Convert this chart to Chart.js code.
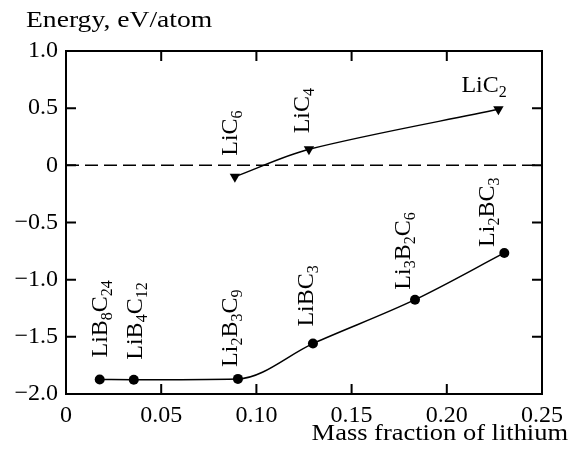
<!DOCTYPE html>
<html lang="en">
<head>
  <meta charset="UTF-8" />
  <title>Energy vs mass fraction of lithium</title>
  <script src="https://cdn.jsdelivr.net/npm/chart.js"></script>
  <style>
    body { margin: 0; background: #fff; }
    #grafico { display: block; }
  </style>
</head>
<body>

<canvas id="grafico" width="570" height="455"></canvas>

<script>
  // Li-B-C compounds (circles)
  const boroNomes = ['LiB8C24', 'LiB4C12', 'Li2B3C9', 'LiBC3', 'Li3B2C6', 'Li2BC3'];
  const boroX = [0.0177, 0.0356, 0.0903, 0.1297, 0.1833, 0.2302];
  const boroY = [-1.873, -1.875, -1.868, -1.559, -1.175, -0.766];

  // Li-C compounds (triangles)
  const carbNomes = ['LiC6', 'LiC4', 'LiC2'];
  const carbX = [0.0887, 0.1276, 0.2271];
  const carbY = [-0.10, 0.14, 0.49];

  // dashed zero line
  const zeroX = [0, 0.25];
  const zeroY = [0, 0];

  const xTicks = [0, 0.05, 0.10, 0.15, 0.20, 0.25];
  const xTickLabels = ['0', '0.05', '0.10', '0.15', '0.20', '0.25'];
  const yTicks = [-2.0, -1.5, -1.0, -0.5, 0, 0.5, 1.0];
  const yTickLabels = ['\u22122.0', '\u22121.5', '\u22121.0', '\u22120.5', '0', '0.5', '1.0'];

  const tituloY = 'Energy, eV/atom';
  const tituloX = 'Mass fraction of lithium';

  const FONTE = 'Liberation Serif';

  function pontos(xs, ys) {
    return xs.map((x, i) => ({ x: x, y: ys[i] }));
  }

  // label placement relative to the point: [dx, dy, rotated]
  const posBoro = [[-1, -22, true], [0, -20, true], [-9, -12, true], [-8, -17, true], [-13, -10, true], [-18, -6, true]];
  const posCarb = [[-6, -21, true], [-8, -16, true], [-37, -17, false]];

  // draws e.g. LiB8C24 with digits as subscripts
  function desenhaFormula(ctx, texto, x0) {
    const partes = texto.match(/[A-Za-z]+|\d+/g);
    let x = x0;
    partes.forEach(p => {
      const sub = /^\d+$/.test(p);
      ctx.font = (sub ? '16px ' : '24px ') + FONTE;
      ctx.fillText(p, x, sub ? 5 : 0);
      x += ctx.measureText(p).width;
    });
  }

  // stretched text for the axis titles
  function textoLargo(ctx, texto, x, y, esc, alinhar) {
    ctx.save();
    ctx.font = '23px ' + FONTE;
    const w = ctx.measureText(texto).width * esc;
    const x0 = alinhar === 'right' ? x - w : x;
    ctx.translate(x0, y);
    ctx.scale(esc, 1);
    ctx.textAlign = 'left';
    ctx.fillText(texto, 0, 0);
    ctx.restore();
  }

  const pluginMoldura = {
    id: 'moldura',
    afterDatasetsDraw(chart) {
      const ctx = chart.ctx;
      const a = chart.chartArea;
      const sx = chart.scales.x, sy = chart.scales.y;
      ctx.save();
      ctx.strokeStyle = '#000';
      ctx.lineWidth = 2;
      ctx.strokeRect(a.left, a.top, a.right - a.left, a.bottom - a.top);
      ctx.beginPath();
      xTicks.slice(1, -1).forEach(v => {
        const px = sx.getPixelForValue(v);
        ctx.moveTo(px, a.bottom); ctx.lineTo(px, a.bottom - 10);
        ctx.moveTo(px, a.top); ctx.lineTo(px, a.top + 10);
      });
      yTicks.slice(1, -1).forEach(v => {
        const py = sy.getPixelForValue(v);
        ctx.moveTo(a.left, py); ctx.lineTo(a.left + 10, py);
        ctx.moveTo(a.right, py); ctx.lineTo(a.right - 10, py);
      });
      ctx.stroke();

      // axis titles
      ctx.fillStyle = '#000';
      ctx.textBaseline = 'alphabetic';
      textoLargo(ctx, tituloY, 26, 27, 1.2, 'left');
      textoLargo(ctx, tituloX, 568, 440, 1.15, 'right');
      ctx.textAlign = 'left';

      // compound labels
      const rotulos = (nomes, xs, ys, pos) => {
        nomes.forEach((n, i) => {
          const px = sx.getPixelForValue(xs[i]);
          const py = sy.getPixelForValue(ys[i]);
          const [dx, dy, rot] = pos[i];
          ctx.save();
          if (rot) {
            ctx.translate(px + dx + 8, py + dy);
            ctx.rotate(-Math.PI / 2);
          } else {
            ctx.translate(px + dx, py + dy);
          }
          desenhaFormula(ctx, n, 0);
          ctx.restore();
        });
      };
      rotulos(boroNomes, boroX, boroY, posBoro);
      rotulos(carbNomes, carbX, carbY, posCarb);
      ctx.restore();
    }
  };

  new Chart(document.getElementById('grafico').getContext('2d'), {
    type: 'line',
    data: {
      datasets: [
        {
          data: pontos(zeroX, zeroY),
          borderColor: '#000', borderWidth: 1.5, borderDash: [13, 6],
          pointRadius: 0, fill: false
        },
        {
          data: pontos(boroX, boroY),
          borderColor: '#000', borderWidth: 1.5, cubicInterpolationMode: 'monotone',
          pointStyle: 'circle', pointRadius: 5,
          pointBackgroundColor: '#000', pointBorderColor: '#000', pointBorderWidth: 0,
          fill: false
        },
        {
          data: pontos(carbX, carbY),
          borderColor: '#000', borderWidth: 1.5, tension: 0.3,
          pointStyle: 'triangle', pointRotation: 180, pointRadius: 6,
          pointBackgroundColor: '#000', pointBorderColor: '#000', pointBorderWidth: 0,
          fill: false
        }
      ]
    },
    options: {
      responsive: false,
      animation: false,
      events: [],
      layout: { padding: { top: 51, right: 25, left: 0, bottom: 0 } },
      plugins: { legend: { display: false }, tooltip: { enabled: false } },
      scales: {
        x: {
          type: 'linear', min: 0, max: 0.25,
          grid: { display: false, drawTicks: false, tickLength: 0 }, border: { display: false },
          afterBuildTicks: s => { s.ticks = xTicks.map(v => ({ value: v })); },
          afterFit: s => { s.height = 61; },
          ticks: {
            color: '#000', padding: 7, maxRotation: 0, autoSkip: false,
            font: { family: FONTE, size: 24 },
            callback: (v, i) => xTickLabels[i]
          }
        },
        y: {
          type: 'linear', min: -2, max: 1,
          grid: { display: false, drawTicks: false, tickLength: 0 }, border: { display: false },
          afterBuildTicks: s => { s.ticks = yTicks.map(v => ({ value: v })); },
          afterFit: s => { s.width = 66; },
          ticks: {
            color: '#000', padding: 8, autoSkip: false,
            font: { family: FONTE, size: 24 },
            callback: (v, i) => yTickLabels[i]
          }
        }
      }
    },
    plugins: [pluginMoldura]
  });
</script>

</body>
</html>
